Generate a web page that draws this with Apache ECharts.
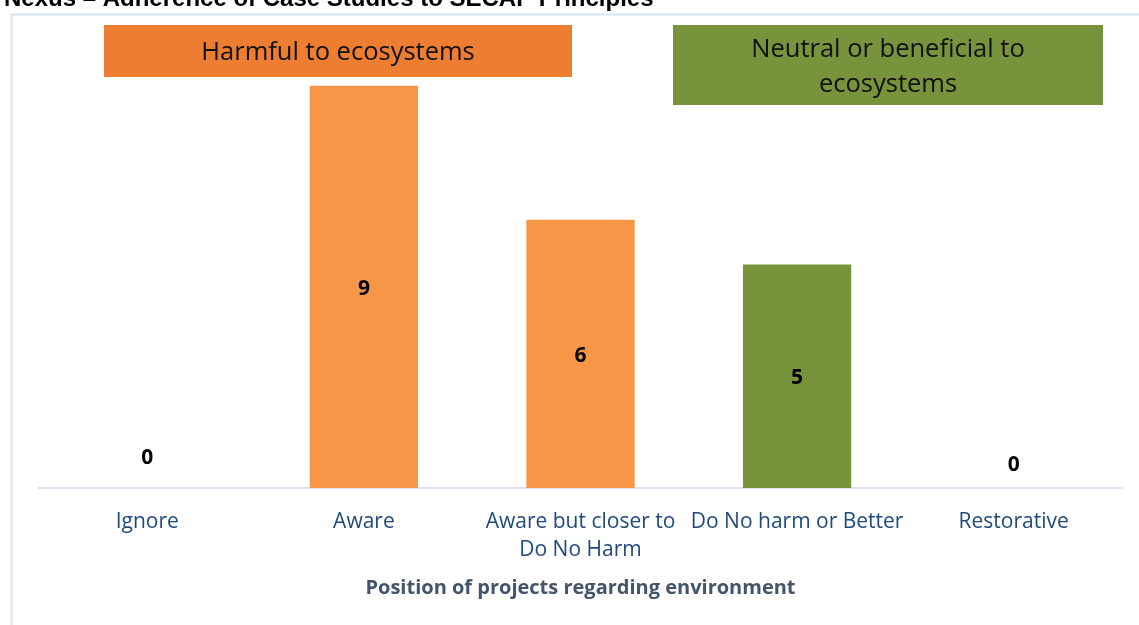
<!DOCTYPE html>
<html><head><meta charset="utf-8">
<script src="https://cdn.jsdelivr.net/npm/echarts@6/dist/echarts.min.js"></script>
<style>html,body{margin:0;padding:0;background:#fff}#c{width:1139px;height:625px}</style>
</head><body><div id="c"></div>
<script>
const categories = ['Ignore', 'Aware', 'Aware but closer to\nDo No Harm', 'Do No harm or Better', 'Restorative'];
const values = [0, 9, 6, 5, 0];
const barColors = ['#F79646', '#F79646', '#F79646', '#77933C', '#77933C'];
const zeroLabelOffsets = [19, 0, 0, 0, 12];

const chart = echarts.init(document.getElementById('c'));
const font = '"Open Sans", Lato, sans-serif';
chart.setOption({
  animation: false,
  title: {
    text: 'Nexus \u2013 Adherence of Case Studies to SECAP Principles',
    left: -1, top: -18,
    textStyle: {fontFamily: '"Liberation Sans", Arial, sans-serif', fontWeight: 'bold', fontSize: 24, color: '#000'}
  },
  grid: {left: 39, right: 17, top: 41, bottom: 137},
  xAxis: {
    type: 'category', data: categories,
    axisLine: {lineStyle: {color: '#D9E1F2', width: 2}},
    axisTick: {show: false},
    axisLabel: {color: '#1F497D', fontFamily: font, fontSize: 21, margin: 20, lineHeight: 28, interval: 0},
    name: 'Position of projects regarding environment',
    nameLocation: 'middle', nameGap: 90,
    nameTextStyle: {color: '#44546A', fontFamily: font, fontSize: 20, fontWeight: 'bold'}
  },
  yAxis: {type: 'value', min: 0, max: 10, show: false, splitLine: {show: false}},
  graphic: [
    {type: 'rect', left: 9, top: 12, shape: {width: 1130, height: 613}, style: {fill: 'none', stroke: '#DAE3F3', lineWidth: 2}},
    {type: 'rect', left: 104, top: 25, shape: {width: 468, height: 52}, style: {fill: '#ED7D31'}},
    {type: 'text', style: {text: 'Harmful to ecosystems', x: 338, y: 53, align: 'center', verticalAlign: 'middle', fontFamily: font, fontSize: 25.5, fill: '#111'}},
    {type: 'rect', left: 673, top: 25, shape: {width: 430, height: 80}, style: {fill: '#77933C'}},
    {type: 'text', style: {text: 'Neutral or beneficial to\necosystems', x: 888, y: 67, align: 'center', verticalAlign: 'middle', lineHeight: 35, fontFamily: font, fontSize: 25.5, fill: '#111'}}
  ],
  series: [{
    type: 'bar', barWidth: '50%',
    data: values.map((v, i) => ({
      value: v,
      itemStyle: {color: barColors[i]},
      label: v === 0 ? {position: 'top', distance: zeroLabelOffsets[i]} : {position: 'inside', offset: [0, 2]}
    })),
    label: {show: true, color: '#000', fontWeight: 'bold', fontSize: 21, fontFamily: font}
  }]
});
</script></body></html>
